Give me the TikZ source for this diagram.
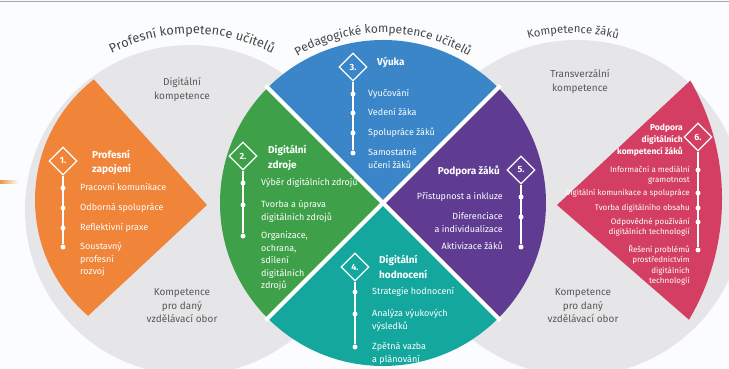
\documentclass[tikz,border=0pt]{standalone}
\usepackage{fontspec}
\setmainfont{Fira Sans}
\usetikzlibrary{shapes.geometric,decorations.text}

\definecolor{pagebg}{RGB}{251,252,253}
\definecolor{ringgray}{RGB}{230,230,232}
\definecolor{labelgray}{RGB}{88,88,88}
\definecolor{titlegray}{RGB}{70,70,70}
\definecolor{orangeA}{RGB}{240,133,58}
\definecolor{greenA}{RGB}{62,160,72}
\definecolor{blueA}{RGB}{58,134,200}
\definecolor{tealA}{RGB}{20,167,158}
\definecolor{purpleA}{RGB}{95,60,145}
\definecolor{roseA}{RGB}{211,62,98}
\definecolor{barorange}{RGB}{232,152,72}

\newcommand\arcfont[1]{\fontsize{#1}{14}\selectfont\color{titlegray}}
\newcommand\itemfont{\fontsize{9}{12.5}\selectfont}
\newcommand\smallitemfont{\fontsize{8}{10.5}\selectfont}
\newcommand\headfont{\fontsize{10}{14.5}\selectfont\bfseries}
\newcommand\labelfont{\fontsize{10}{13.5}\selectfont}

\tikzset{
  num/.style={diamond, draw=white, line width=1.2pt, minimum size=28pt, inner sep=0pt,
    text=white, font=\fontsize{9}{10}\selectfont\bfseries},
  head/.style={text=white, font=\headfont, inner sep=0pt, align=left},
  item/.style={text=white, font=\itemfont, inner sep=0pt, align=left},
  ritem/.style={text=white, font=\smallitemfont, inner sep=0pt, align=right},
  dot/.style={circle, fill=white, inner sep=0pt, minimum size=5pt},
  stem/.style={white, line width=1.2pt},
  gap/.style={white, line width=4pt},
  zone/.style={text=labelgray, font=\labelfont, inner sep=0pt, align=center},
  arctitle/.style 2 args={decorate, decoration={text along path, text align=center, text={|\arcfont{#1}|#2}}},
}

\begin{document}
\begin{tikzpicture}[x=1pt, y=1pt]
\useasboundingbox (0,0) rectangle (729,369);
\fill[pagebg] (0,0) rectangle (729,369);
\draw[gray!70, line width=0.8pt] (0,367.5) -- (729,367.5); % frame
\shade[left color=barorange, right color=barorange!5] (0,185) rectangle (18,188); % bar

% grey discs
\fill[ringgray] (190,159) circle (165); % ucitel
\fill[ringgray] (577,161) circle (168); % zak

\begin{scope} % wedge 1
\clip (188,169) circle (153);
\fill[orangeA] (207,164) -- +(132:300) -- +(223:300) -- cycle;
\end{scope}
\begin{scope} % wedge 6
\clip (485,170) circle (237);
\fill[roseA] (557,164) -- +(43:300) -- +(-41:300) -- cycle;
\end{scope}

% centre disc
\coordinate (hub) at (383,166);
\fill[blueA] (hub) -- +(45:163) arc[start angle=45, end angle=135, radius=163] -- cycle;
\fill[greenA] (hub) -- +(135:163) arc[start angle=135, end angle=225, radius=163] -- cycle;
\fill[tealA] (hub) -- +(225:163) arc[start angle=225, end angle=315, radius=163] -- cycle;
\fill[purpleA] (hub) -- +(-45:163) arc[start angle=-45, end angle=45, radius=163] -- cycle;
\foreach \a in {45,135,225,315} \draw[gap] (hub) -- +(\a:166);

% titles on arcs
\path[arctitle={12.8}{Profesní kompetence učitelů}] (192,159) ++(150:176) arc[start angle=150, end angle=30, radius=176];
\path[arctitle={12}{Pedagogické kompetence učitelů}] (hub) ++(150:170) arc[start angle=150, end angle=30, radius=170];
\path[arctitle={11.3}{Kompetence žáků}] (573,161) ++(150:175) arc[start angle=150, end angle=30, radius=175];

% grey labels
\node[zone, anchor=base] (dig) at (182,269.5) {Digitální\\kompetence};
\node[zone, anchor=base] (oborL) at (182,46) {Kompetence\\pro daný\\vzdělávací obor};
\node[zone, anchor=base] (trans) at (580,277.5) {Transverzální\\kompetence};
\node[zone, anchor=base] (oborR) at (583,46) {Kompetence\\pro daný\\vzdělávací obor};

% 1 Profesni zapojeni
\node[num, fill=orangeA] (n1) at (63,208) {1.};
\node[head, anchor=base west] (h1) at (92,196) {Profesní\\zapojení};
\node[dot] (a1) at (63,181) {};
\node[dot] (a2) at (63,161) {};
\node[dot] (a3) at (63,141) {};
\node[dot] (a4) at (63,122) {};
\draw[stem] (n1.south) -- (a4);
\node[item, anchor=base west] (a1t) at (80,178) {Pracovní komunikace};
\node[item, anchor=base west] (a2t) at (80,158) {Odborná spolupráce};
\node[item, anchor=base west] (a3t) at (80,138) {Reflektivní praxe};
\node[item, anchor=base west] (a4t) at (80,94) {Soustavný\\profesní\\rozvoj};

% 2 Digitalni zdroje
\node[num, fill=greenA] (n2) at (243,213) {2.};
\node[head, anchor=base west] (h2) at (268,200.5) {Digitální\\zdroje};
\node[dot] (b1) at (243,186) {};
\node[dot] (b2) at (243,164) {};
\node[dot] (b3) at (243,133) {};
\draw[stem] (n2.south) -- (b3);
\node[item, anchor=base west] (b1t) at (261,183) {Výběr digitálních zdrojů};
\node[item, anchor=base west] (b2t) at (261,148.5) {Tvorba a úprava\\digitálních zdrojů};
\node[item, anchor=base west] (b3t) at (261,80) {Organizace,\\ochrana,\\sdílení\\digitálních\\zdrojů};

% 3 Vyuka
\node[num, fill=blueA] (n3) at (353,302) {3.};
\node[head, anchor=base west] (h3) at (377,303) {Výuka};
\node[dot] (c1) at (353,275) {};
\node[dot] (c2) at (353,256) {};
\node[dot] (c3) at (353,236) {};
\node[dot] (c4) at (353,216) {};
\draw[stem] (n3.south) -- (c4);
\node[item, anchor=base west] (c1t) at (368,272) {Vyučování};
\node[item, anchor=base west] (c2t) at (368,253) {Vedení žáka};
\node[item, anchor=base west] (c3t) at (368,233) {Spolupráce žáků};
\node[item, anchor=base west] (c4t) at (368,200.5) {Samostatné\\učení žáků};

% 4 Digitalni hodnoceni
\node[num, fill=tealA] (n4) at (355,102) {4.};
\node[head, anchor=base west] (h4) at (379,90.5) {Digitální\\hodnocení};
\node[dot] (e1) at (355,77) {};
\node[dot] (e2) at (355,55) {};
\node[dot] (e3) at (355,22) {};
\draw[stem] (n4.south) -- (e3);
\node[item, anchor=base west] (e1t) at (372,74) {Strategie hodnocení};
\node[item, anchor=base west] (e2t) at (372,39.5) {Analýza výukových\\výsledků};
\node[item, anchor=base west] (e3t) at (372,6.5) {Zpětná vazba\\a plánování};

% 5 Podpora zaku
\node[num, fill=purpleA] (n5) at (521,199) {5.};
\node[head, anchor=base east, align=right] (h5) at (500,194) {Podpora žáků};
\node[dot] (f1) at (521,172) {};
\node[dot] (f2) at (521,152) {};
\node[dot] (f3) at (521,122) {};
\draw[stem] (n5.south) -- (f3);
\node[item, anchor=base east, align=right] (f1t) at (503,169) {Přístupnost a inkluze};
\node[item, anchor=base east, align=right] (f2t) at (503,136.5) {Diferenciace\\a individualizace};
\node[item, anchor=base east, align=right] (f3t) at (503,119) {Aktivizace žáků};

% 6 Podpora digitalnich kompetenci zaku
\node[num, fill=roseA] (n6) at (698,232) {6.};
\node[head, anchor=base east, align=right, font=\fontsize{8.5}{12}\selectfont\bfseries] (h6) at (683,214) {Podpora\\digitálních\\kompetencí žáků};
\node[dot] (g1) at (698,199) {};
\node[dot] (g2) at (698,176) {};
\node[dot] (g3) at (698,161) {};
\node[dot] (g4) at (698,147) {};
\node[dot] (g5) at (698,119) {};
\draw[stem] (n6.south) -- (g5);
\node[ritem, anchor=base east] (g1t) at (690,186) {Informační a mediální\\gramotnost};
\node[ritem, anchor=base east] (g2t) at (690,173.5) {Digitální komunikace a spolupráce};
\node[ritem, anchor=base east] (g3t) at (690,158.5) {Tvorba digitálního obsahu};
\node[ritem, anchor=base east] (g4t) at (690,134) {Odpovědné používání\\digitálních technologií};
\node[ritem, anchor=base east] (g5t) at (690,85) {Řešení problémů\\prostřednictvím\\digitálních\\technologií};
\end{tikzpicture}
\end{document}
